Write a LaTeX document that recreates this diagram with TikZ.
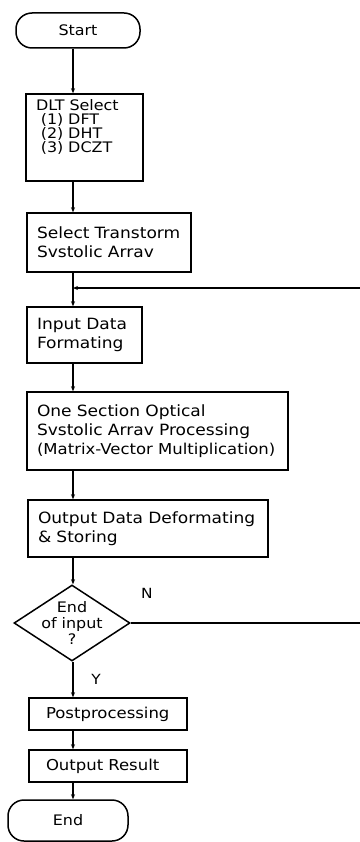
\documentclass[tikz,border=0pt]{standalone}
\usepackage{fontspec}
\setmainfont{DejaVu Sans}[FakeStretch=1.1]
\usetikzlibrary{shapes.geometric,arrows.meta}
\begin{document}
\begin{tikzpicture}[x=1pt,y=-1pt,
  box/.style={draw,line width=1.5pt,rectangle,anchor=center,inner ysep=2pt,align=left,
    font=\fontsize{15.5}{19}\selectfont},
  term/.style={draw,line width=1.5pt,rounded corners=16pt,anchor=center,
    font=\fontsize{14.5}{18}\selectfont},
  decision/.style={draw,line width=1.5pt,diamond,inner sep=-14pt,minimum width=116pt,minimum height=76pt,
    align=center,font=\fontsize{14.5}{16}\selectfont},
  conn/.style={line width=1.2pt},
  arr/.style={line width=1.2pt,-{Stealth[length=5pt,width=4pt]}},
  lab/.style={font=\fontsize{14}{16}\selectfont}]
\useasboundingbox (0,0) rectangle (359,842);
\node[term,minimum width=124pt,minimum height=35pt] (start) at (78,30.5) {Start};
\node[box,minimum height=87pt,text width=97pt,inner xsep=10pt,font=\fontsize{14.5}{14}\selectfont] (dlt) at (84.5,137.5)
  {DLT Select\\\ (1) DFT\\\ (2) DHT\\\ (3) DCZT\\[4pt]\strut};
\node[box,minimum height=59pt,text width=144pt,inner xsep=10pt] (sel) at (109,242.5)
  {Select Transtorm\\Svstolic Arrav};
\coordinate (J) at (73,288);
\node[box,minimum height=56pt,text width=95pt,inner xsep=10pt] (inp) at (84.5,335)
  {Input Data\\Formating\\[6pt]};
\node[box,minimum height=78pt,text width=241pt,inner xsep=10pt] (one) at (157.5,431)
  {One Section Optical\\Svstolic Arrav Processing\\\mbox{\fontsize{15}{19}\selectfont(Matrix-Vector Multiplication)}};
\node[box,minimum height=57pt,text width=220pt,inner xsep=10pt] (out) at (148,528.5)
  {Output Data Deformating\\\& Storing};
\node[decision] (dec) at (72,623) {End\\of input\\?};
\node[lab] (nlab) at (147,593) {N};
\node[lab] (ylab) at (96,679) {Y};
\node[box,minimum height=32pt,text width=124pt,inner xsep=17pt,font=\fontsize{15}{18}\selectfont] (post) at (108,714) {Postprocessing};
\node[box,minimum height=32pt,text width=124pt,inner xsep=17pt,font=\fontsize{15}{18}\selectfont] (res) at (108,766) {Output Result};
\node[term,minimum width=120pt,minimum height=41pt] (end) at (68,820.5) {End};
\coordinate (r1) at (362,623);
\coordinate (r2) at (362,288);
\draw[arr] (start.south -| J) -- (dlt.north -| J);
\draw[arr] (dlt.south -| J) -- (sel.north -| J);
\draw[arr] (sel.south -| J) -- (inp.north -| J);
\draw[arr] (inp.south -| J) -- (one.north -| J);
\draw[arr] (one.south -| J) -- (out.north -| J);
\draw[arr] (out.south -| J) -- (dec.north -| J);
\draw[arr] (dec.south -| J) -- (post.north -| J);
\draw[arr] (post.south -| J) -- (res.north -| J);
\draw[arr] (res.south -| J) -- (end.north -| J);
\draw[conn] (dec.east) -- (r1) -- (r2);
\draw[arr] (r2) -- (J);
\end{tikzpicture}
\end{document}
